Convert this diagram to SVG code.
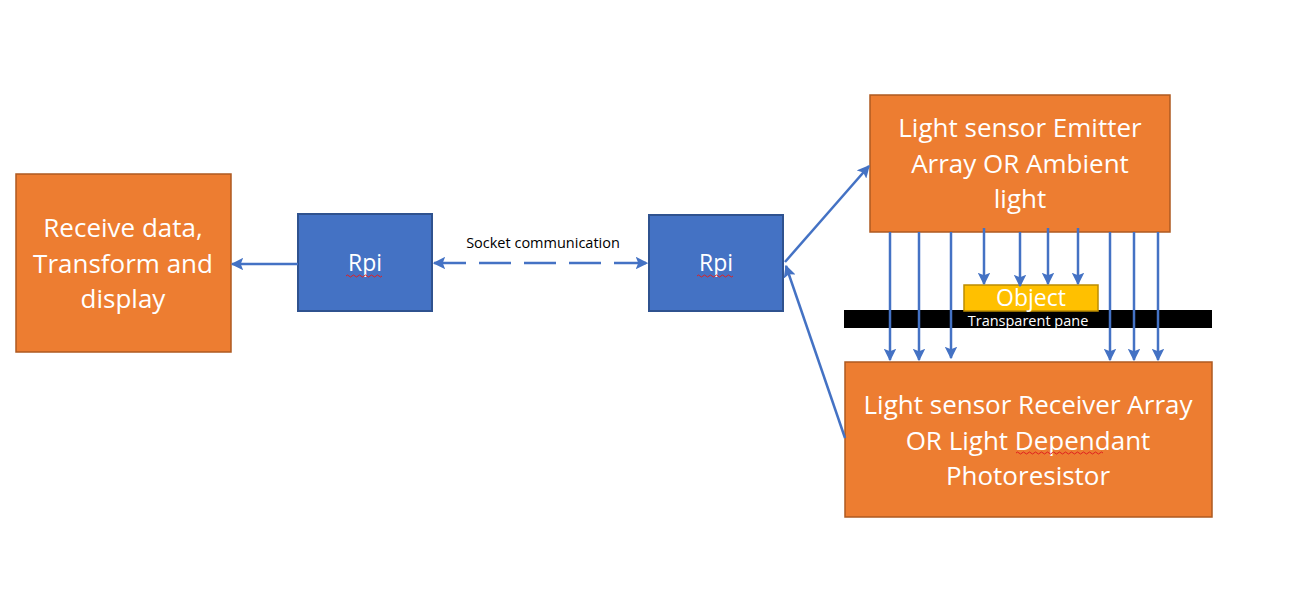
<svg xmlns="http://www.w3.org/2000/svg" width="1301" height="597" viewBox="0 0 1301 597">
<style>
.or{fill:#ED7D31;stroke:#AE5A21;stroke-width:1.5}
.bl{fill:#4472C4;stroke:#2F528F;stroke-width:2}
.t{font-family:"Open Sans","Liberation Sans",Arial,sans-serif;fill:#fff;text-anchor:middle}
.big{font-size:26px}
.c{stroke:#4472C4;stroke-width:2.5;fill:none}
.sq{stroke:#E02020;stroke-width:1;fill:none}
</style>
<defs>
<marker id="ah" viewBox="0 0 10 10" refX="9" refY="5" markerWidth="5" markerHeight="5" orient="auto-start-reverse" markerUnits="strokeWidth">
<path d="M0,0 L10,5 L0,10 L2,5 Z" fill="#4472C4"/>
</marker>
</defs>
<rect width="1301" height="597" fill="#fff"/>
<g id="display">
<rect class="or" x="16" y="174" width="215" height="178"/>
<text class="t big" x="123" y="237">Receive data,</text>
<text class="t big" x="123" y="273">Transform and</text>
<text class="t big" x="123" y="308">display</text>
</g>
<g id="rpi1">
<rect class="bl" x="298" y="214" width="134" height="97"/>
<text class="t" font-size="23" x="365" y="271">Rpi</text>
<path class="sq" d="M346,276 q1.5,-2 3,0 t3,0 t3,0 t3,0 t3,0 t3,0 t3,0 t3,0 t3,0 t3,0 t3,0 t3,0"/>
</g>
<g id="rpi2">
<rect class="bl" x="649" y="215" width="134" height="96"/>
<text class="t" font-size="23" x="716" y="271">Rpi</text>
<path class="sq" d="M697,276 q1.5,-2 3,0 t3,0 t3,0 t3,0 t3,0 t3,0 t3,0 t3,0 t3,0 t3,0 t3,0 t3,0"/>
</g>
<g id="emitter">
<rect class="or" x="870" y="95" width="300" height="137"/>
<text class="t big" x="1020" y="137">Light sensor Emitter</text>
<text class="t big" x="1020" y="173">Array OR Ambient</text>
<text class="t big" x="1020" y="208">light</text>
</g>
<g id="pane">
<rect x="844" y="310" width="368" height="18" fill="#000"/>
<text class="t" font-size="14.5" x="1028" y="326">Transparent pane</text>
</g>
<g id="object">
<rect x="964" y="285" width="134" height="26" fill="#FFC000" stroke="#BC8C00" stroke-width="1.5"/>
<text class="t" font-size="23" x="1031" y="306">Object</text>
</g>
<g id="receiver">
<rect class="or" x="845" y="362" width="367" height="155"/>
<text class="t big" x="1028" y="414">Light sensor Receiver Array</text>
<text class="t big" x="1028" y="450">OR Light Dependant</text>
<text class="t big" x="1028" y="485">Photoresistor</text>
<path class="sq" d="M1016,453 q1.5,-2 3,0 t3,0 t3,0 t3,0 t3,0 t3,0 t3,0 t3,0 t3,0 t3,0 t3,0 t3,0 t3,0 t3,0 t3,0 t3,0 t3,0 t3,0 t3,0 t3,0 t3,0 t3,0 t3,0 t3,0 t3,0 t3,0 t3,0 t3,0 t3,0"/>
</g>
<g id="connectors">
<line class="c" x1="298" y1="264" x2="232" y2="264" marker-end="url(#ah)"/>
<line class="c" x1="434" y1="263" x2="647" y2="263" stroke-dasharray="32,13" stroke-width="3" marker-start="url(#ah)" marker-end="url(#ah)"/>
<text x="543" y="248" font-family="Open Sans,Liberation Sans,Arial,sans-serif" font-size="14.5" fill="#000" text-anchor="middle">Socket communication</text>
<line class="c" x1="785" y1="262" x2="869" y2="166" marker-end="url(#ah)"/>
<line class="c" x1="845" y1="438" x2="786" y2="266" marker-end="url(#ah)"/>
<line class="c" x1="890" y1="232" x2="890" y2="360" marker-end="url(#ah)"/>
<line class="c" x1="919" y1="232" x2="919" y2="360" marker-end="url(#ah)"/>
<line class="c" x1="951" y1="232" x2="951" y2="358" marker-end="url(#ah)"/>
<line class="c" x1="984" y1="228" x2="984" y2="284" marker-end="url(#ah)"/>
<line class="c" x1="1020" y1="232" x2="1020" y2="286" marker-end="url(#ah)"/>
<line class="c" x1="1048" y1="228" x2="1048" y2="284" marker-end="url(#ah)"/>
<line class="c" x1="1078" y1="228" x2="1078" y2="284" marker-end="url(#ah)"/>
<line class="c" x1="1110" y1="232" x2="1110" y2="360" marker-end="url(#ah)"/>
<line class="c" x1="1134" y1="232" x2="1134" y2="360" marker-end="url(#ah)"/>
<line class="c" x1="1158" y1="232" x2="1158" y2="360" marker-end="url(#ah)"/>
</g>
</svg>
